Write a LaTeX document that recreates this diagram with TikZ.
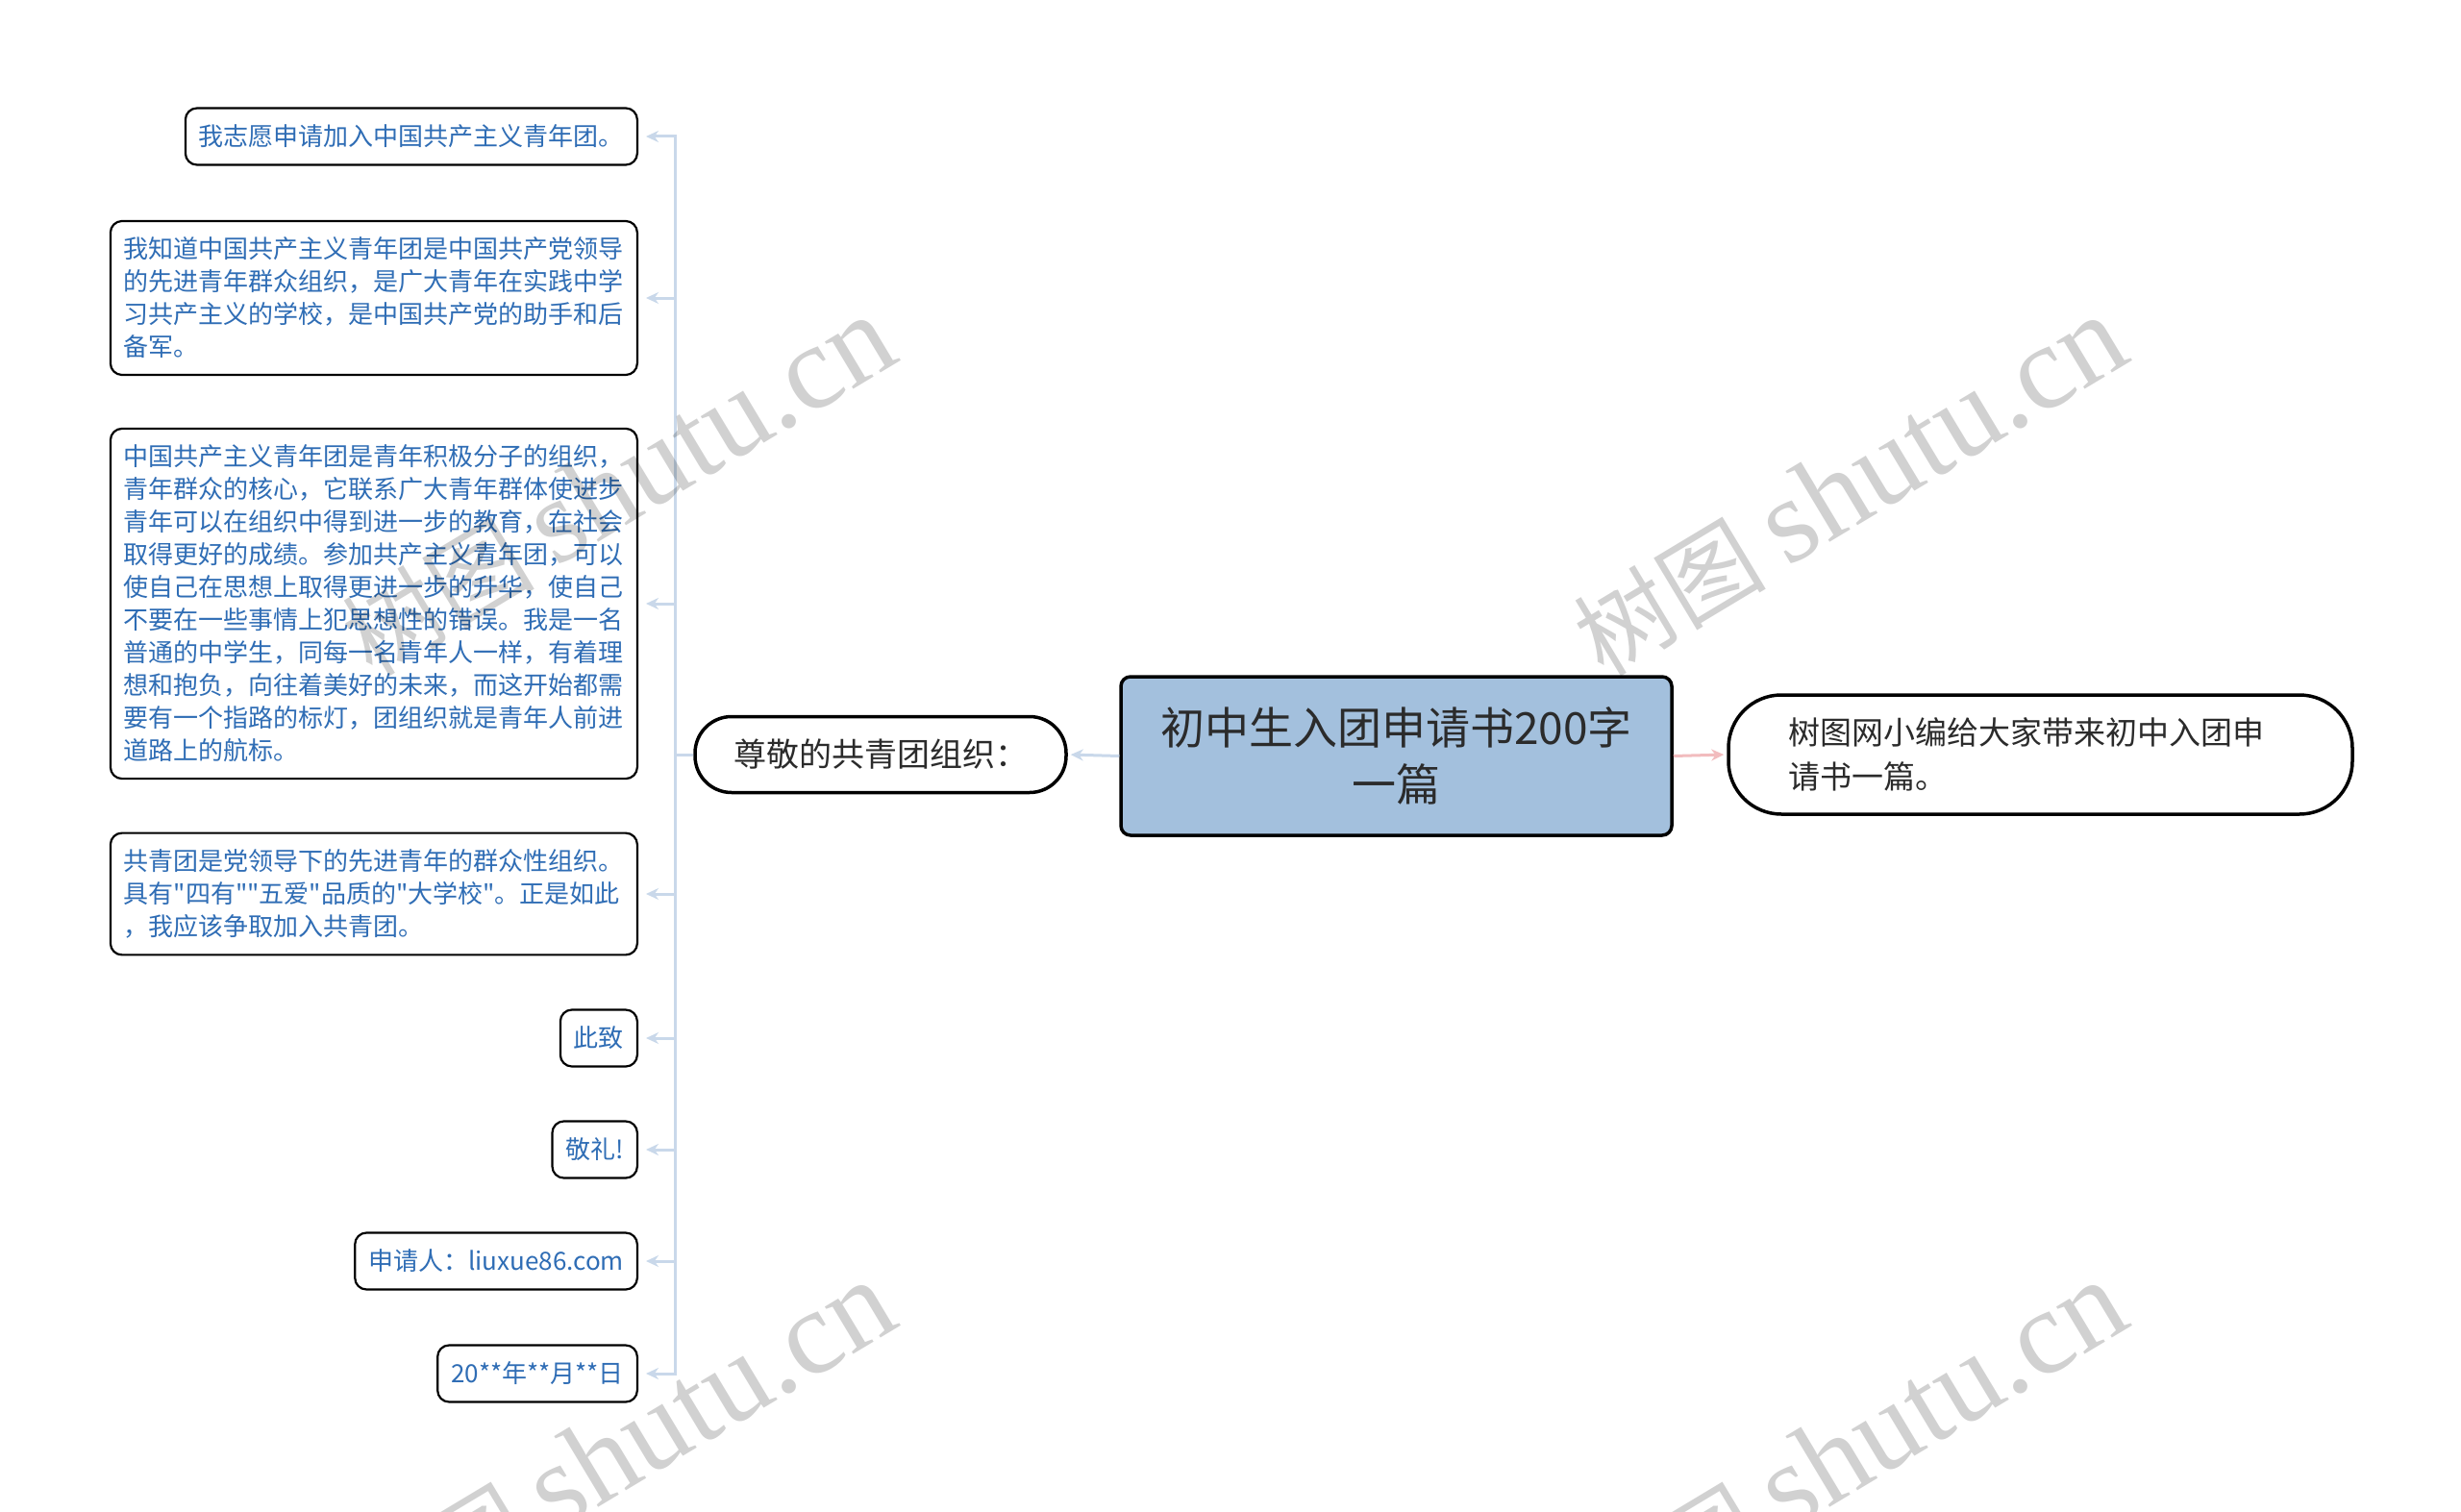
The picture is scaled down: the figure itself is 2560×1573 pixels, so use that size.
\documentclass[tikz,border=0pt]{standalone}
\usepackage{fontspec}
\newfontfamily\cjkfont{Noto Sans CJK SC}
\newfontfamily\wmfont{Liberation Serif}
\usetikzlibrary{arrows.meta}
\definecolor{txtblue}{HTML}{2F6DB5}
\definecolor{linkblue}{HTML}{C9D8EA}
\definecolor{centralfill}{HTML}{A3C0DD}
\definecolor{pinkline}{HTML}{F2BCBE}
\definecolor{darktext}{HTML}{2B2B2B}
\begin{document}
\begin{tikzpicture}[x=1pt,y=-1pt,
  leaf/.style={draw=black, line width=2.2pt, rounded corners=12pt, fill=white,
    text=txtblue, font=\cjkfont\fontsize{26}{34}\selectfont, align=left,
    inner xsep=14pt, inner ysep=17pt, anchor=east, minimum height=59pt},
  central/.style={draw=black, line width=3.5pt, rounded corners=10pt, fill=centralfill,
    text=darktext, font=\cjkfont\fontsize{46}{59}\selectfont, align=center,
    minimum width=573pt, minimum height=165pt, inner sep=0pt},
  sub/.style={draw=black, line width=3.5pt, fill=white, text=darktext},
  conn/.style={draw=linkblue, line width=3pt},
  arr/.style={-{Stealth[length=13pt,width=12pt]}, shorten >=8pt},
  wm/.style={text=black, opacity=0.18, rotate=31, font=\cjkfont\fontsize{100}{100}\selectfont}
]
\useasboundingbox (0,0) rectangle (2560,1573);
\fill[white] (0,0) rectangle (2560,1573);

% central node
\node[central] (c) at (1452.5,786.5) {初中生入团申请书200字\\一篇};

% left main child
\node[sub, rounded corners=38pt, minimum width=386pt, minimum height=79pt,
  font=\cjkfont\fontsize{34}{40}\selectfont, inner sep=0pt] (l) at (916,785) {尊敬的共青团组织：};

% right child
\node[sub, rounded corners=55pt, minimum height=124pt, text width=525pt,
  inner xsep=62pt, inner ysep=0pt, align=left, font=\cjkfont\fontsize{33}{46}\selectfont]
  (r) at (2122.5,785) {树图网小编给大家带来初中入团申\\请书一篇。};

% leaves
\node[leaf] (b1) at (664,142) {我志愿申请加入中国共产主义青年团。};
\node[leaf] (b2) at (664,310) {我知道中国共产主义青年团是中国共产党领导\\的先进青年群众组织，是广大青年在实践中学\\习共产主义的学校，是中国共产党的助手和后\\备军。};
\node[leaf] (b3) at (664,628) {中国共产主义青年团是青年积极分子的组织，\\青年群众的核心，它联系广大青年群体使进步\\青年可以在组织中得到进一步的教育，在社会\\取得更好的成绩。参加共产主义青年团，可以\\使自己在思想上取得更进一步的升华，使自己\\不要在一些事情上犯思想性的错误。我是一名\\普通的中学生，同每一名青年人一样，有着理\\想和抱负，向往着美好的未来，而这开始都需\\要有一个指路的标灯，团组织就是青年人前进\\道路上的航标。};
\node[leaf] (b4) at (664,930) {共青团是党领导下的先进青年的群众性组织。\\具有"四有""五爱"品质的"大学校"。正是如此\\，我应该争取加入共青团。};
\node[leaf] (b5) at (664,1080) {此致};
\node[leaf] (b6) at (664,1196) {敬礼!};
\node[leaf] (b7) at (664,1312) {申请人：liuxue86.com};
\node[leaf] (b8) at (664,1429) {20**年**月**日};

% connectors
\coordinate (trunk) at (702,785);
\draw[conn, arr, shorten >=3pt] (c.west) -- (l.east);
\draw[conn, draw=pinkline, arr, shorten >=3pt] (c.east) -- (r.west);
\draw[conn] (l.west) -- (trunk);
\foreach \b in {b1,b2,b3,b4,b5,b6,b7,b8}
  \draw[conn, arr] (trunk) |- (\b.east);

% watermarks
\node[wm] (wm1) at (643,506) {树图 {\wmfont\fontsize{125}{125}\selectfont shutu.cn}};
\node[wm] (wm2) at (1924,506) {树图 {\wmfont\fontsize{125}{125}\selectfont shutu.cn}};
\node[wm] (wm3) at (643,1510) {树图 {\wmfont\fontsize{125}{125}\selectfont shutu.cn}};
\node[wm] (wm4) at (1924,1510) {树图 {\wmfont\fontsize{125}{125}\selectfont shutu.cn}};
\end{tikzpicture}
\end{document}
